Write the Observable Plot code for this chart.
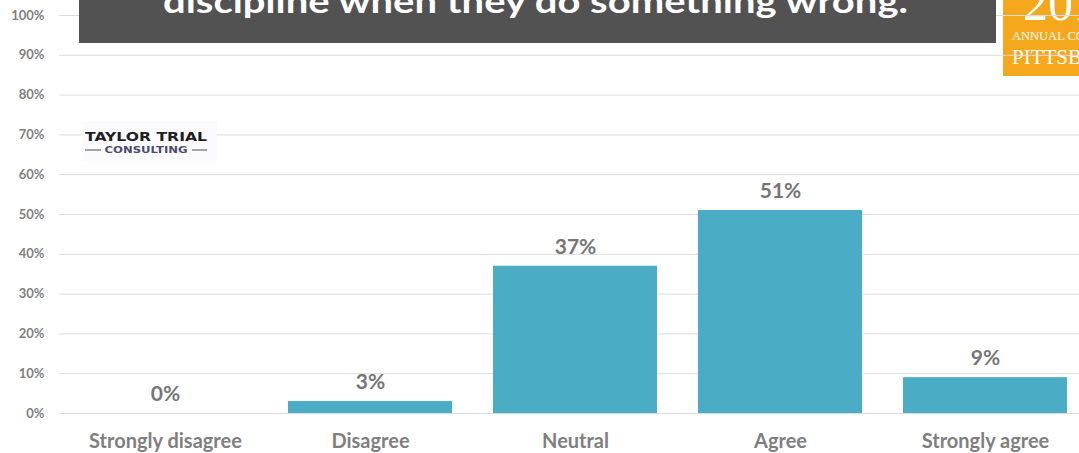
<!DOCTYPE html>
<html><head><meta charset="utf-8">
<script src="https://cdn.jsdelivr.net/npm/d3@7"></script>
<script src="https://cdn.jsdelivr.net/npm/@observablehq/plot@0.6"></script>
<style>
html,body{margin:0;padding:0;background:#fff;overflow:hidden}
#wrap{position:relative;width:1079px;height:453px;overflow:hidden}
#chart{position:absolute;left:0;top:0;z-index:2}
#chart svg{background:transparent}
#titlebox{position:absolute;left:79px;top:0;width:917px;height:43px;background:#525252;z-index:3;overflow:hidden}
#logo{position:absolute;left:1003px;top:0;width:76px;height:76px;background:#f6a81d;z-index:1;overflow:hidden}
#ttc{position:absolute;left:83px;top:121px;width:134px;height:40px;background:#fbfbfd;z-index:3}
</style></head><body>
<div id="wrap">
  <div id="titlebox"></div>
  <div id="logo"></div>
  <div id="ttc"></div>
  <div id="chart"></div>
</div>
<script>
const categories = ["Strongly disagree", "Disagree", "Neutral", "Agree", "Strongly agree"];
const values = [0, 0.03, 0.37, 0.51, 0.09];
const valueLabels = ["0%", "3%", "37%", "51%", "9%"];
const yTicks = [0, 0.1, 0.2, 0.3, 0.4, 0.5, 0.6, 0.7, 0.8, 0.9, 1.0];
const titleText = "discipline when they do something wrong.";
const logoBig = "2019";
const logoSmall = "ANNUAL CONFERENCE";
const logoCity = "PITTSBURGH";
const ttcTop = "TAYLOR TRIAL";
const ttcBottom = "CONSULTING";

const data = categories.map((c, i) => ({category: c, value: values[i], label: valueLabels[i]}));

const chart = Plot.plot({
  width: 1079, height: 453,
  marginLeft: 59, marginRight: 0, marginTop: 15, marginBottom: 40,
  style: {fontFamily: "Lato, 'Open Sans', sans-serif", background: "transparent", color: "#7f7f7f"},
  x: {domain: categories, range: [60, 1089], paddingInner: 0.2, paddingOuter: 0.1, label: null},
  y: {domain: [0, 1], label: null},
  marks: [
    Plot.ruleY(yTicks, {stroke: "#dcdcdc", strokeWidth: 1}),
    Plot.barY(data, {x: "category", y: "value", fill: "#4bacc6"}),
    Plot.text(data, {x: "category", y: "value", text: "label", dy: -19, fontSize: 21, fontWeight: "bold", fill: "#767676"}),
    Plot.axisY({ticks: yTicks, tickSize: 0, tickPadding: 15, fontSize: 13, fontWeight: "bold", tickFormat: d3.format(".0%"), label: null}),
    Plot.axisX({tickSize: 0, tickPadding: 20, fontSize: 20, fontWeight: "bold", label: null})
  ]
});
document.getElementById("chart").appendChild(chart);

// title box text
document.getElementById("titlebox").innerHTML =
  `<svg width="917" height="43"><text x="456.5" y="13" text-anchor="middle" fill="#ffffff" font-family="Lato, 'Open Sans', sans-serif" font-weight="bold" font-size="33" textLength="745" lengthAdjust="spacingAndGlyphs">${titleText}</text></svg>`;

// conference logo
document.getElementById("logo").innerHTML =
  `<svg width="76" height="76">
    <text x="20" y="20" fill="#fff" font-family="'Liberation Serif', serif" font-size="50">${logoBig}</text>
    <text x="9" y="40" fill="#fff" font-family="'Liberation Serif', serif" font-size="12.5">${logoSmall}</text>
    <text x="9" y="64" fill="#fff" font-family="'Liberation Serif', serif" font-size="21">${logoCity}</text>
  </svg>`;

// Taylor Trial logo
document.getElementById("ttc").innerHTML =
  `<svg width="134" height="40">
    <text x="63" y="20" text-anchor="middle" fill="#1e1e24" font-family="'DejaVu Sans', sans-serif" font-weight="bold" font-size="12.5" textLength="122" lengthAdjust="spacingAndGlyphs">${ttcTop}</text>
    <line x1="2" x2="18" y1="29" y2="29" stroke="#4a4a72" stroke-width="1"/>
    <line x1="109" x2="124" y1="29" y2="29" stroke="#4a4a72" stroke-width="1"/>
    <text x="63" y="32" text-anchor="middle" fill="#4a4a72" font-family="'DejaVu Sans', sans-serif" font-weight="bold" font-size="8" textLength="83" lengthAdjust="spacingAndGlyphs">${ttcBottom}</text>
  </svg>`;
</script>
</body></html>
